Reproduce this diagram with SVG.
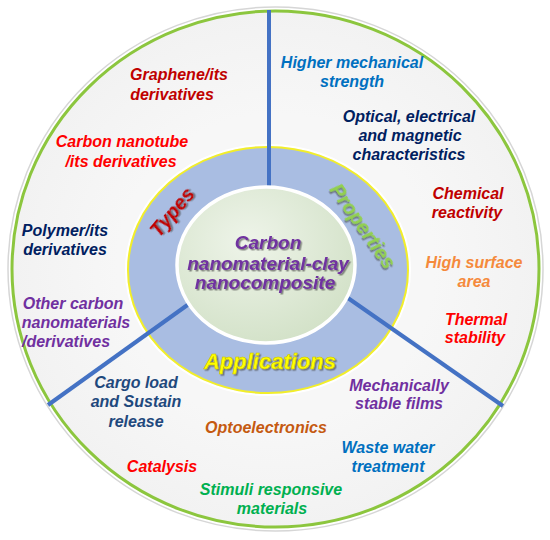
<svg xmlns="http://www.w3.org/2000/svg" width="550" height="540" viewBox="0 0 550 540">
<defs>
<radialGradient id="gIn" cx="0.4" cy="0.35" r="0.7">
<stop offset="0" stop-color="#eef4e9"/>
<stop offset="1" stop-color="#d2e1c7"/>
</radialGradient>
<radialGradient id="gOut" cx="0.5" cy="0.5" r="0.5">
<stop offset="0.6" stop-color="#f7f7f7"/>
<stop offset="1" stop-color="#f2f2f2"/>
</radialGradient>
<filter id="shd" x="-20%" y="-40%" width="140%" height="180%">
<feDropShadow dx="1.5" dy="1.5" stdDeviation="0.6" flood-color="#444" flood-opacity="0.6"/>
</filter>
</defs>
<style>
text{font-family:"Liberation Sans",Arial,sans-serif;font-weight:bold;font-style:italic;font-size:16px;text-anchor:middle}
.big{font-size:20px;filter:url(#shd)}
.ctr{font-size:19px;filter:url(#shd)}
.div{stroke:#4472c4;stroke-width:4;fill:none}
</style>
<rect width="550" height="540" fill="#ffffff"/>
<g id="outer">
<ellipse cx="275.5" cy="269" rx="267.5" ry="262" fill="#ffffff" stroke="#d6d6d6" stroke-width="1.5"/>
<ellipse cx="275.5" cy="269" rx="263.5" ry="258" fill="url(#gOut)" stroke="#8cc63e" stroke-width="3"/>
</g>
<g id="ring">
<ellipse cx="268" cy="270" rx="142" ry="125" fill="none" stroke="#ffffff" stroke-width="2"/>
<ellipse cx="268" cy="270" rx="140" ry="123" fill="#a9bde2" stroke="#f2ee2a" stroke-width="2"/>
</g>
<g id="connectors">
<line class="div" x1="269" y1="10" x2="269" y2="195"/>
<line class="div" x1="48" y1="405" x2="200" y2="296"/>
<line class="div" x1="503" y1="406" x2="335" y2="289"/>
</g>
<g id="center">
<ellipse cx="266" cy="265" rx="89" ry="78" fill="url(#gIn)" stroke="#ffffff" stroke-width="3.5"/>
<text class="ctr" x="268" y="249" fill="#7030a0">Carbon</text>
<text class="ctr" x="268" y="270" fill="#7030a0">nanomaterial-clay</text>
<text class="ctr" x="265" y="289" fill="#7030a0">nanocomposite</text>
</g>
<g id="types">
<text class="big" transform="translate(172,212) rotate(-50)" x="0" y="7" fill="#c00000">Types</text>
</g>
<g id="properties">
<text class="big" transform="translate(363,226) rotate(55)" x="0" y="7" fill="#92d050">Properties</text>
</g>
<g id="applications">
<text class="big" x="270" y="369" fill="#ffff00" stroke="#c8c200" stroke-width="0.6" style="font-size:22px">Applications</text>
</g>
<g id="graphene">
<text x="179" y="80" fill="#c00000">Graphene/its</text>
<text x="172" y="100" fill="#c00000">derivatives</text>
</g>
<g id="cnt">
<text x="122" y="147" fill="#ff0000">Carbon nanotube</text>
<text x="121" y="167" fill="#ff0000">/its derivatives</text>
</g>
<g id="polymer">
<text x="65" y="236" fill="#002060">Polymer/its</text>
<text x="65" y="255" fill="#002060">derivatives</text>
</g>
<g id="other">
<text x="73" y="309" fill="#7030a0">Other carbon</text>
<text x="76" y="328" fill="#7030a0">nanomaterials</text>
<text x="66" y="347" fill="#7030a0">/derivatives</text>
</g>
<g id="higher">
<text x="352" y="68" fill="#0070c0">Higher mechanical</text>
<text x="352" y="87" fill="#0070c0">strength</text>
</g>
<g id="optical">
<text x="409" y="122" fill="#002060">Optical, electrical</text>
<text x="410" y="141" fill="#002060">and magnetic</text>
<text x="409" y="160" fill="#002060">characteristics</text>
</g>
<g id="chemical">
<text x="468" y="199" fill="#c00000">Chemical</text>
<text x="467" y="218" fill="#c00000">reactivity</text>
</g>
<g id="surface">
<text x="474" y="268" fill="#f58a3c">High surface</text>
<text x="474" y="287" fill="#f58a3c">area</text>
</g>
<g id="thermal">
<text x="476" y="325" fill="#ff0000">Thermal</text>
<text x="475" y="343" fill="#ff0000">stability</text>
</g>
<g id="mechanically">
<text x="399" y="391" fill="#7030a0">Mechanically</text>
<text x="399" y="409" fill="#7030a0">stable films</text>
</g>
<g id="waste">
<text x="388" y="453" fill="#0070c0">Waste water</text>
<text x="388" y="472" fill="#0070c0">treatment</text>
</g>
<g id="opto">
<text x="266" y="433" fill="#c55a11">Optoelectronics</text>
</g>
<g id="cargo">
<text x="136" y="388" fill="#1f497d">Cargo load</text>
<text x="136" y="407" fill="#1f497d">and Sustain</text>
<text x="136" y="427" fill="#1f497d">release</text>
</g>
<g id="catalysis">
<text x="162" y="472" fill="#ff0000">Catalysis</text>
</g>
<g id="stimuli">
<text x="271" y="495" fill="#00b050">Stimuli responsive</text>
<text x="272" y="514" fill="#00b050">materials</text>
</g>
</svg>
